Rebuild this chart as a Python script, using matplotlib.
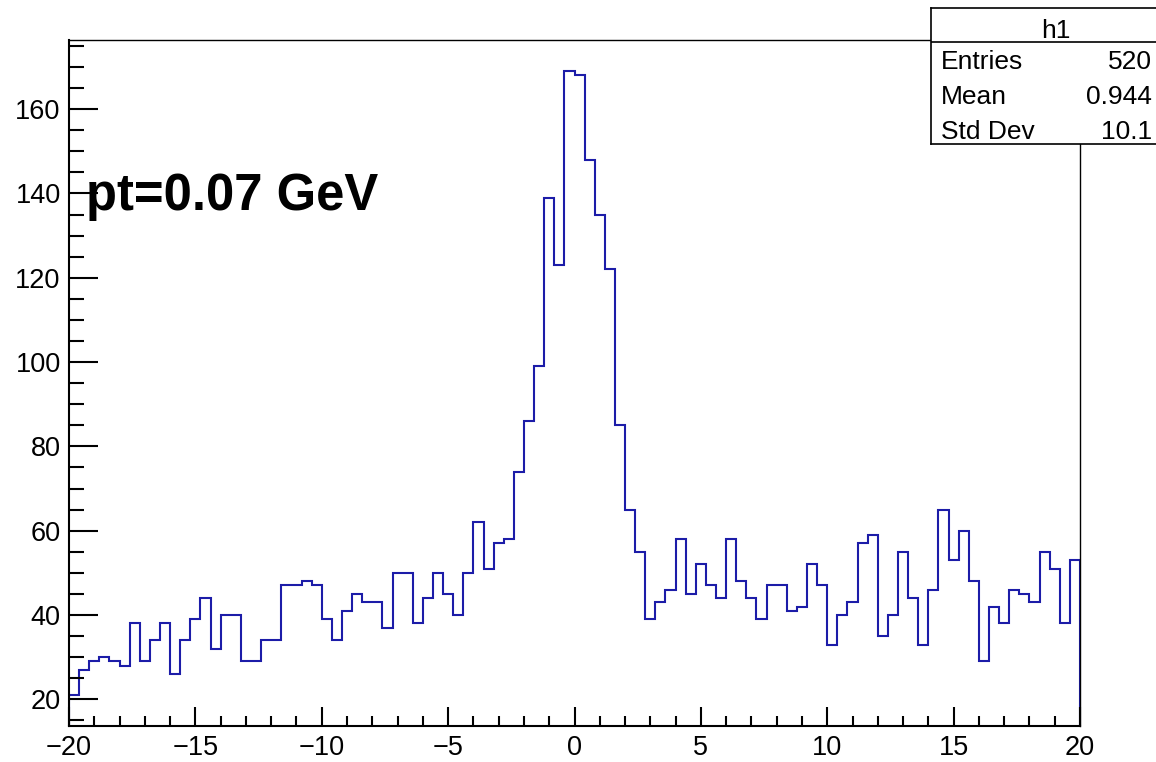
import numpy as np
import matplotlib
matplotlib.use("Agg")
import matplotlib.pyplot as plt
from matplotlib.ticker import MultipleLocator

plt.rcParams['font.family'] = ['Liberation Sans', 'DejaVu Sans']

# histogram h1: 100 bins from -20 to 20
x_min, x_max, n_bins = -20, 20, 100
counts = [21, 27, 29, 30, 29, 28, 38, 29, 34, 38,
          26, 34, 39, 44, 32, 40, 40, 29, 29, 34,
          34, 47, 47, 48, 47, 39, 34, 41, 45, 43,
          43, 37, 50, 50, 38, 44, 50, 45, 40, 50,
          62, 51, 57, 58, 74, 86, 99, 139, 123, 169,
          168, 148, 135, 122, 85, 65, 55, 39, 43, 46,
          58, 45, 52, 47, 44, 58, 48, 44, 39, 47,
          47, 41, 42, 52, 47, 33, 40, 43, 57, 59,
          35, 40, 55, 44, 33, 46, 65, 53, 60, 48,
          29, 42, 38, 46, 45, 43, 55, 51, 38, 53]
stats_labels = ["Entries", "Mean", "Std Dev"]
stats_values = ["520", "0.944", "10.1"]
hist_name = "h1"
label_text = "pt=0.07 GeV"

W, H = 1156, 762
fig = plt.figure(figsize=(W / 100, H / 100), dpi=100)

def fx(px):
    return px / W

def fy(py):
    return 1 - py / H

ax = fig.add_axes([fx(69), fy(726.3), fx(1080) - fx(69), fy(40) - fy(726.3)])
edges = np.linspace(x_min, x_max, n_bins + 1)
ax.stairs(counts, edges, color='#1c1ca8', linewidth=1.5)

ax.set_xlim(x_min, x_max)
ax.set_ylim(13.6, 176.4)
ax.xaxis.set_major_locator(MultipleLocator(5))
ax.xaxis.set_minor_locator(MultipleLocator(1))
ax.yaxis.set_major_locator(MultipleLocator(20))
ax.yaxis.set_minor_locator(MultipleLocator(5))
ax.tick_params(which='both', direction='in', top=False, right=False, labelsize=19.5, width=1.5)
ax.tick_params(axis='x', which='major', length=14, pad=6)
ax.tick_params(axis='x', which='minor', length=7)
ax.tick_params(axis='y', which='major', length=21, pad=6)
ax.tick_params(axis='y', which='minor', length=10.5)
for s in ax.spines.values():
    s.set_linewidth(1.5)
ax.spines['top'].set_linewidth(1.0)
ax.spines['right'].set_linewidth(1.0)

fig.text(fx(86), fy(210), label_text, fontsize=36.5, fontweight='bold', ha='left', va='baseline')

# stats box
sb = fig.add_axes([fx(931), fy(144), fx(1180) - fx(931), fy(8) - fy(144)])
sb.set_facecolor('white')
sb.set_xticks([])
sb.set_yticks([])
for s in sb.spines.values():
    s.set_linewidth(1.2)
sb.set_xlim(931, 1180)
sb.set_ylim(144, 8)
sb.axhline(42, color='black', linewidth=1.2)
sb.text(1055.7, 38.3, hist_name, fontsize=19, ha='center', va='baseline')
for i, (lab, val) in enumerate(zip(stats_labels, stats_values)):
    yb = 69.3 + 35 * i
    sb.text(941, yb, lab, fontsize=19, ha='left', va='baseline')
    sb.text(1152, yb, val, fontsize=19, ha='right', va='baseline')

fig.savefig("out.png", dpi=100)
